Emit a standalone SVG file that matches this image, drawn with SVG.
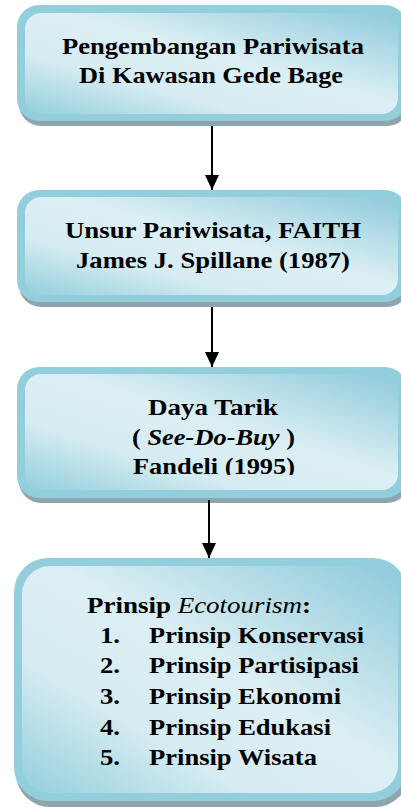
<svg xmlns="http://www.w3.org/2000/svg" width="401" height="810" viewBox="0 0 401 810">
<defs>
<linearGradient id="g" x1="0" y1="1" x2="1" y2="0">
<stop offset="0" stop-color="#93cfdc"/>
<stop offset="0.3" stop-color="#d6ecf2"/>
<stop offset="0.55" stop-color="#dceff4"/>
<stop offset="1" stop-color="#8ecadb"/>
</linearGradient>
<marker id="ah" viewBox="0 0 15 14" refX="15" refY="7" markerWidth="15" markerHeight="14" markerUnits="userSpaceOnUse" orient="auto">
<path d="M0,0 L15,7 L0,14 Z" fill="#000"/>
</marker>
<clipPath id="c3"><rect x="0" y="360" width="401" height="115"/></clipPath>
</defs>
<style>
.sh{fill:#8ea5ab}
.ol{fill:#92cedb}
.in{fill:url(#g)}
.t{font-weight:bold;font-size:24px;fill:#000}
.e{stroke:#000;stroke-width:2;fill:none}
</style>
<g id="node1">
<rect class="sh" x="19" y="9" width="390" height="117" rx="22"/>
<rect class="ol" x="17" y="5" width="390" height="116" rx="22"/>
<rect class="in" x="25" y="13" width="373" height="101" rx="16"/>
<g class="t" font-family="Liberation Serif">
<text x="62" y="54" textLength="302" lengthAdjust="spacingAndGlyphs">Pengembangan Pariwisata</text>
<text x="79" y="83" textLength="264" lengthAdjust="spacingAndGlyphs">Di Kawasan Gede Bage</text>
</g>
</g>
<g id="node2">
<rect class="sh" x="19" y="194" width="390" height="113" rx="22"/>
<rect class="ol" x="17" y="190" width="390" height="112" rx="22"/>
<rect class="in" x="25" y="197" width="373" height="98" rx="16"/>
<g class="t" font-family="Liberation Serif">
<text x="65" y="238" textLength="296" lengthAdjust="spacingAndGlyphs">Unsur Pariwisata, FAITH</text>
<text x="76" y="268" textLength="274" lengthAdjust="spacingAndGlyphs">James J. Spillane (1987)</text>
</g>
</g>
<g id="node3">
<rect class="sh" x="19" y="371" width="390" height="132" rx="22"/>
<rect class="ol" x="17" y="367" width="390" height="131" rx="22"/>
<rect class="in" x="25" y="374" width="373" height="116" rx="16"/>
<g class="t" font-family="Liberation Serif">
<text x="148" y="415" textLength="130" lengthAdjust="spacingAndGlyphs">Daya Tarik</text>
<text x="132" y="445" textLength="163" lengthAdjust="spacingAndGlyphs">( <tspan font-style="italic">See-Do-Buy</tspan> )</text>
<text x="133" y="474" textLength="162" lengthAdjust="spacingAndGlyphs" clip-path="url(#c3)">Fandeli (1995)</text>
</g>
</g>
<g id="node4">
<rect class="sh" x="16" y="562" width="393" height="245" rx="34"/>
<rect class="ol" x="14" y="558" width="393" height="243" rx="34"/>
<rect class="in" x="22" y="566" width="376" height="227" rx="28"/>
<g class="t" font-family="Liberation Serif">
<text x="87" y="613" textLength="224" lengthAdjust="spacingAndGlyphs">Prinsip <tspan font-style="italic" font-weight="normal">Ecotourism</tspan>:</text>
<text x="100" y="643" textLength="20" lengthAdjust="spacingAndGlyphs">1.</text><text x="149" y="643" textLength="215" lengthAdjust="spacingAndGlyphs">Prinsip Konservasi</text>
<text x="100" y="673" textLength="20" lengthAdjust="spacingAndGlyphs">2.</text><text x="149" y="673" textLength="210" lengthAdjust="spacingAndGlyphs">Prinsip Partisipasi</text>
<text x="100" y="704" textLength="20" lengthAdjust="spacingAndGlyphs">3.</text><text x="149" y="704" textLength="192" lengthAdjust="spacingAndGlyphs">Prinsip Ekonomi</text>
<text x="100" y="735" textLength="20" lengthAdjust="spacingAndGlyphs">4.</text><text x="149" y="735" textLength="182" lengthAdjust="spacingAndGlyphs">Prinsip Edukasi</text>
<text x="100" y="765" textLength="20" lengthAdjust="spacingAndGlyphs">5.</text><text x="149" y="765" textLength="168" lengthAdjust="spacingAndGlyphs">Prinsip Wisata</text>
</g>
</g>
<g id="connectors">
<line class="e" x1="212" y1="126" x2="212" y2="190" marker-end="url(#ah)"/>
<line class="e" x1="212" y1="307" x2="212" y2="367" marker-end="url(#ah)"/>
<line class="e" x1="209" y1="500" x2="209" y2="558" marker-end="url(#ah)"/>
</g>
</svg>
